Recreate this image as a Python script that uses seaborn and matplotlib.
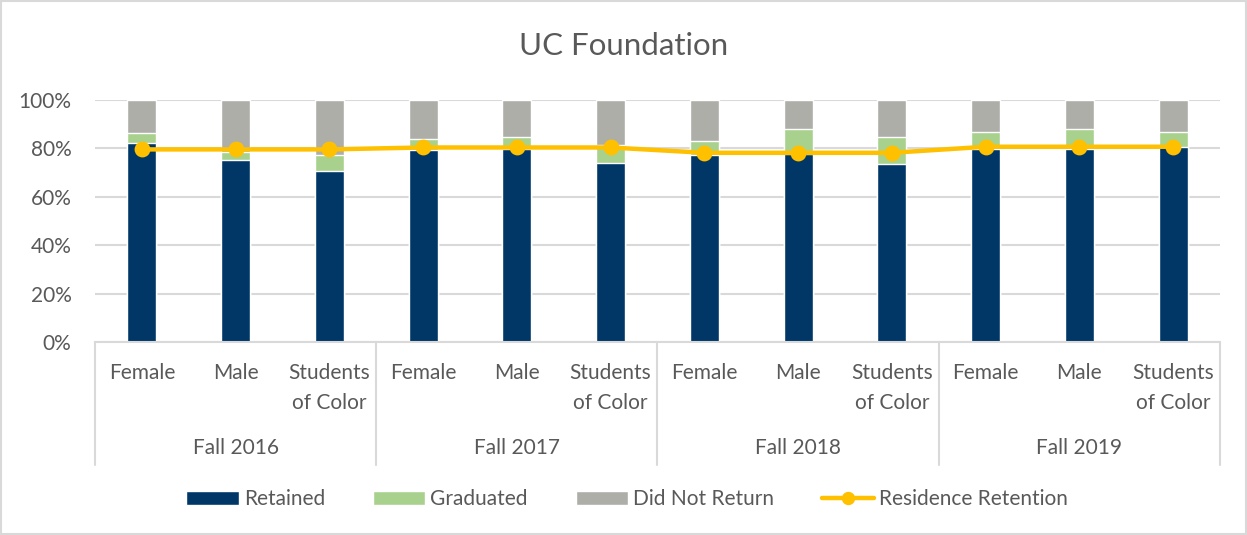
import pandas as pd
import matplotlib.pyplot as plt
import matplotlib.patches as mpatches
import seaborn as sns

# values (percent)
terms = ["Fall 2016", "Fall 2017", "Fall 2018", "Fall 2019"]
groups = ["Female", "Male", "Students\nof Color"]
retained = [82.4, 75.2, 70.8, 79.5, 79.8, 73.8, 77.3, 77.5, 73.6, 79.6, 79.6, 80.7]
graduated = [3.8, 3.4, 6.5, 4.2, 5.0, 7.6, 5.8, 10.5, 11.2, 7.0, 8.3, 6.3]
did_not_return = [13.8, 21.4, 22.7, 16.3, 15.2, 18.6, 16.9, 12.0, 15.2, 13.4, 12.1, 13.0]
residence = [79.6, 79.6, 79.6, 80.4, 80.4, 80.4, 78.2, 78.2, 78.2, 80.7, 80.7, 80.7]

rows = []
for i, t in enumerate(terms):
    for j, g in enumerate(groups):
        k = i * len(groups) + j
        rows.append({"bar": f"{t}|{g}", "term": t, "group": g,
                     "Retained": retained[k], "Graduated": graduated[k],
                     "Did Not Return": did_not_return[k],
                     "Residence Retention": residence[k]})
df = pd.DataFrame(rows)
df["grad_top"] = df["Retained"] + df["Graduated"]
df["total"] = df["grad_top"] + df["Did Not Return"]

sns.set_style("white")
plt.rcParams['font.family'] = ['Lato', 'DejaVu Sans']
text_color = "#595959"
grid_color = "#D9D9D9"

fig = plt.figure(figsize=(12.47, 5.35), dpi=100)
ax = fig.add_axes([0.0762, 0.3607, 0.9021, 0.4523])

order = list(df["bar"])
w = 0.31
sns.barplot(data=df, x="bar", y="total", order=order, color="#AEAEA9", width=w,
            saturation=1, label="Did Not Return", ax=ax, zorder=2)
sns.barplot(data=df, x="bar", y="grad_top", order=order, color="#A9D18E", width=w,
            saturation=1, label="Graduated", ax=ax, zorder=2)
sns.barplot(data=df, x="bar", y="Retained", order=order, color="#003767", width=w,
            saturation=1, label="Retained", ax=ax, zorder=2)
sns.pointplot(data=df, x="bar", y="Residence Retention", order=order, color="#FFC000",
              markers="o", markersize=9, linewidth=3.2, label="Residence Retention",
              ax=ax, zorder=4)

handles, labels = ax.get_legend_handles_labels()
if ax.get_legend() is not None:
    ax.get_legend().remove()

ax.set_xlim(-0.5, len(order) - 0.5)
ax.set_ylim(0, 100)
ax.set_yticks(range(0, 101, 20))
ax.set_yticklabels([f"{v}%" for v in range(0, 101, 20)])
ax.tick_params(axis="y", length=0, pad=17, labelsize=15, labelcolor=text_color)
ax.set_xticks([])
ax.set_xlabel("")
ax.set_ylabel("")
ax.yaxis.grid(True, color=grid_color, linewidth=1.5, zorder=0)
ax.set_axisbelow(True)
for s in ["top", "right", "left"]:
    ax.spines[s].set_visible(False)
ax.spines["bottom"].set_color(grid_color)
ax.spines["bottom"].set_linewidth(1.5)

# multi-level category axis
trans = ax.get_xaxis_transform()
for k, row in df.iterrows():
    for n, line in enumerate(row["group"].split("\n")):
        ax.text(k, -0.128 - n * 0.124, line, transform=trans, ha="center", va="center",
                fontsize=15, color=text_color)
n_g = len(groups)
for i, t in enumerate(terms):
    ax.text(i * n_g + (n_g - 1) / 2, -0.438, t, transform=trans, ha="center",
            va="center", fontsize=15, color=text_color)
for i in range(len(terms) + 1):
    ax.plot([i * n_g - 0.5] * 2, [0, -0.508], transform=trans, color=grid_color,
            linewidth=1.5, clip_on=False)

fig.text(0.5, 1 - 46 / 535, "UC Foundation", ha="center", va="center",
         fontsize=22.5, color=text_color)

hmap = dict(zip(labels, handles))
leg_order = ["Retained", "Graduated", "Did Not Return", "Residence Retention"]
fig.legend([hmap[l] for l in leg_order], leg_order, loc="center",
           bbox_to_anchor=(0.503, 0.067), ncol=4, frameon=False, fontsize=15,
           handlelength=2.5, handletextpad=0.25, columnspacing=2.3,
           markerscale=0.8, labelcolor=text_color)

fig.patches.append(mpatches.Rectangle((0.001, 0.002), 0.998, 0.996, transform=fig.transFigure,
                                      fill=False, edgecolor=grid_color, linewidth=1.5))

fig.savefig("out.png", dpi=100)
